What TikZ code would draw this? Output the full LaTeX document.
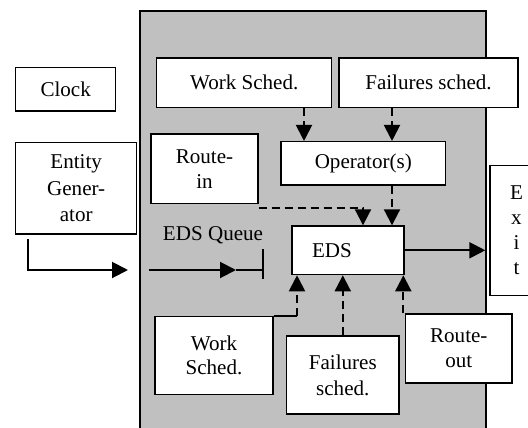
\documentclass[tikz,border=0pt]{standalone}
\usepackage{fontspec}
\setmainfont{Liberation Serif}
\usetikzlibrary{arrows.meta}

\definecolor{panelgray}{RGB}{192,192,192}
\tikzset{every picture/.style={line width=0.75pt}}
\tikzset{
  blk/.style={draw, fill=white, line width=1pt, align=center, inner sep=0pt,
    font=\fontsize{15.8}{18.5}\selectfont},
  lbl/.style={inner sep=0pt, font=\fontsize{15.8}{18.5}\selectfont},
  solidarr/.style={line width=1.5pt, -{Triangle[length=12pt,width=12pt]}},
  dasharr/.style={line width=1.5pt, dash pattern=on 6pt off 3.75pt,
    -{Triangle[length=12pt,width=12pt]}},
}

\begin{document}
\begin{tikzpicture}[x=0.75pt,y=0.75pt,yscale=-1,xscale=1]
\clip (0,0) rectangle (528,428); %set diagram to 528 x 428

%Shape: Rectangle (model panel)
\draw [fill=panelgray, line width=1.1pt] (140,11) rectangle (486,434) ;

%Shape: Rectangle
\node [blk, minimum width=75pt, minimum height=32.5pt] (clock) at (65.7,89.3) {Clock};
%Shape: Rectangle
\node [blk, minimum width=90.75pt, minimum height=68.5pt, font=\fontsize{15.8}{20}\selectfont] (gen) at (76.2,188.3) {Entity\\Gener-\\ator};
%Shape: Rectangle
\node [blk, minimum width=131.25pt, minimum height=37.3pt] (wtop) at (244.2,82.8) {Work Sched.};
%Shape: Rectangle
\node [blk, minimum width=134.25pt, minimum height=37.3pt] (ftop) at (428.5,82.8) {Failures sched.};
%Shape: Rectangle
\node [blk, minimum width=80.25pt, minimum height=52.1pt] (rin) at (204.5,168.8) {Route-\\in};
%Shape: Rectangle
\node [blk, minimum width=123.5pt, minimum height=32.5pt] (op) at (363.3,163.3) {Operator(s)};
%Shape: Rectangle
\node [blk, align=left, text width=54pt, inner xsep=15pt, minimum height=36.5pt] (eds) at (348,250.3) {EDS};
%Shape: Rectangle
\node [blk, minimum width=39.75pt, minimum height=97.5pt, font=\fontsize{15.8}{18.75}\selectfont] (exit) at (516.5,230.7) {E\\x\\i\\t};
%Shape: Rectangle
\node [blk, minimum width=88.5pt, minimum height=58.2pt] (wbot) at (214,355.5) {Work\\Sched.};
%Shape: Rectangle
\node [blk, minimum width=84.2pt, minimum height=58.5pt, font=\fontsize{15.8}{19.5}\selectfont] (fbot) at (342.8,375) {Failures\\sched.};
%Shape: Rectangle
\node [blk, minimum width=79.7pt, minimum height=51.75pt] (rout) at (458.8,348.5) {Route-\\out};

% Text Node
\node [lbl] (qlabel) at (213,235) {EDS Queue};

% free ends and x positions of the connectors
\coordinate (genout) at (28,239) ;
\coordinate (genin) at (128,270) ;
\coordinate (qstart) at (149,270) ;
\coordinate (qtip) at (236,270) ;
\coordinate (qend) at (263,270) ;
\coordinate (xw) at (304,0) ;
\coordinate (xf) at (392,0) ;
\coordinate (xr) at (363,0) ;
\coordinate (xwb) at (297,0) ;
\coordinate (xro) at (403.3,0) ;

%Straight Lines
\draw [solidarr] (genout) |- (genin) ;
\draw [solidarr] (qstart) -- (qtip) ;
\draw [line width=1.5pt] (qtip) -- (qend) ;
\draw [line width=1.1pt] (qend) ++(0,-21) -- ++(0,30) ;
\draw [solidarr, shorten >=3pt] (eds.east) -- (eds.east -| exit.west) ;

%Dashed Lines
\draw [dasharr] (wtop.south -| xw) -- (op.north -| xw) ;
\draw [dasharr] (ftop.south -| xf) -- (op.north -| xf) ;
\draw [dasharr] ([yshift=3pt]rin.south east) -| (eds.north -| xr) ;
\draw [dasharr] (op.south -| xf) -- (eds.north -| xf) ;
\draw [line width=1.5pt] (wbot.north east) -- (wbot.north east -| xwb) ;
\draw [dasharr] (wbot.north east -| xwb) -- (eds.south -| xwb) ;
\draw [dasharr] (fbot.north) -- (eds.south -| fbot.north) ;
\draw [dasharr] (rout.north -| xro) -- (eds.south -| xro) ;

\end{tikzpicture}
\end{document}
